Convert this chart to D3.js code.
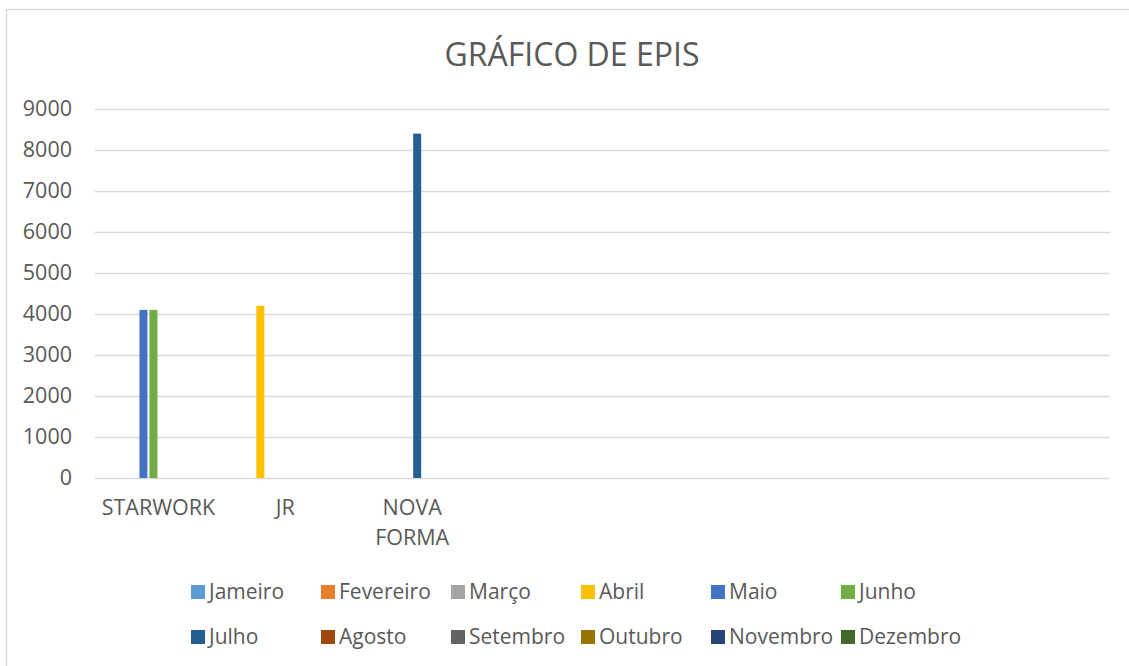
<!DOCTYPE html>
<html>
<head>
<meta charset="utf-8">
<script src="https://cdn.jsdelivr.net/npm/d3@7"></script>
<style>
  body { margin: 0; background: #fff; }
  svg text { font-family: "Open Sans", sans-serif; fill: #595959; }
</style>
</head>
<body>
<div id="chart"></div>
<script>
'use strict';

const title = 'GRÁFICO DE EPIS';
// 8 categories, the last five are empty in the sheet
const categories = ['STARWORK', 'JR', 'NOVA FORMA', '', '', '', '', ''];
const months = ['Jameiro', 'Fevereiro', 'Março', 'Abril', 'Maio', 'Junho',
    'Julho', 'Agosto', 'Setembro', 'Outubro', 'Novembro', 'Dezembro'];
const colors = ['#5B9BD5', '#ED7D31', '#A5A5A5', '#FFC000', '#4472C4', '#70AD47',
    '#255E91', '#9E480E', '#636363', '#997300', '#264478', '#43682B'];
// values[month][category]
const values = [
    [0, 0, 0, 0, 0, 0, 0, 0],
    [0, 0, 0, 0, 0, 0, 0, 0],
    [0, 0, 0, 0, 0, 0, 0, 0],
    [0, 4200, 0, 0, 0, 0, 0, 0],
    [4100, 0, 0, 0, 0, 0, 0, 0],
    [4100, 0, 0, 0, 0, 0, 0, 0],
    [0, 0, 8400, 0, 0, 0, 0, 0],
    [0, 0, 0, 0, 0, 0, 0, 0],
    [0, 0, 0, 0, 0, 0, 0, 0],
    [0, 0, 0, 0, 0, 0, 0, 0],
    [0, 0, 0, 0, 0, 0, 0, 0],
    [0, 0, 0, 0, 0, 0, 0, 0]
];
const yTicks = [0, 1000, 2000, 3000, 4000, 5000, 6000, 7000, 8000, 9000];

const width = 1129;
const height = 666;
const margin = {top: 109, right: 19, bottom: 188, left: 95};

const svg = d3.select('#chart').append('svg')
    .attr('width', width)
    .attr('height', height);

// chart area border
svg.append('rect')
    .attr('x', 6.5).attr('y', 9.5)
    .attr('width', width + 10).attr('height', height + 10)
    .attr('fill', 'none')
    .attr('stroke', '#d9d9d9')
    .attr('stroke-width', 1.5);

svg.append('text')
    .attr('x', 572).attr('y', 66)
    .attr('text-anchor', 'middle')
    .style('font-size', '32px')
    .text(title);

var y = d3.scaleLinear()
    .domain([0, 9000])
    .range([height - margin.bottom, margin.top]);

var x0 = d3.scaleBand()
    .domain(d3.range(categories.length))
    .range([margin.left, width - margin.right])
    .paddingInner(0.055)
    .paddingOuter(0.0275);

var x1 = d3.scaleBand()
    .domain(d3.range(months.length))
    .range([0, x0.bandwidth()])
    .paddingInner(0.2)
    .paddingOuter(0.1);

// gridlines
var yAxis = d3.axisLeft(y)
    .tickValues(yTicks)
    .tickFormat(d3.format('d'))
    .tickSize(-(width - margin.right - margin.left))
    .tickPadding(23);
var gy = svg.append('g')
    .attr('transform', 'translate(' + margin.left + ',0)')
    .call(yAxis);
gy.select('.domain').remove();
gy.selectAll('.tick line')
    .attr('stroke', '#d9d9d9')
    .attr('stroke-width', 1.3);
gy.selectAll('.tick text')
    .style('font-size', '21.5px')
    .attr('fill', '#595959');

// bars
months.forEach(function(m, si) {
    svg.append('g')
        .attr('fill', colors[si])
        .selectAll('rect')
        .data(values[si].map(function(v, ci) { return {v: v, ci: ci}; })
            .filter(function(d) { return d.v > 0; }))
        .join('rect')
        .attr('x', function(d) { return x0(d.ci) + x1(si); })
        .attr('width', x1.bandwidth())
        .attr('y', function(d) { return y(d.v); })
        .attr('height', function(d) { return y(0) - y(d.v); });
});

// category labels
categories.forEach(function(c, ci) {
    if (!c) return;
    var t = svg.append('text')
        .attr('text-anchor', 'middle')
        .style('font-size', '21.5px');
    c.split(' ').forEach(function(word, k) {
        t.append('tspan')
            .attr('x', x0(ci) + x0.bandwidth() / 2)
            .attr('y', 515 + k * 30)
            .text(word);
    });
});

// legend
var legend = svg.append('g');
months.forEach(function(m, i) {
    var col = i % 6;
    var row = Math.floor(i / 6);
    var lx = 191 + col * 130;
    var ly = 585 + row * 45;
    legend.append('rect')
        .attr('x', lx).attr('y', ly)
        .attr('width', 14).attr('height', 14)
        .attr('fill', colors[i]);
    legend.append('text')
        .attr('x', lx + 18).attr('y', ly + 14)
        .style('font-size', '21px')
        .text(m);
});
</script>
</body>
</html>
